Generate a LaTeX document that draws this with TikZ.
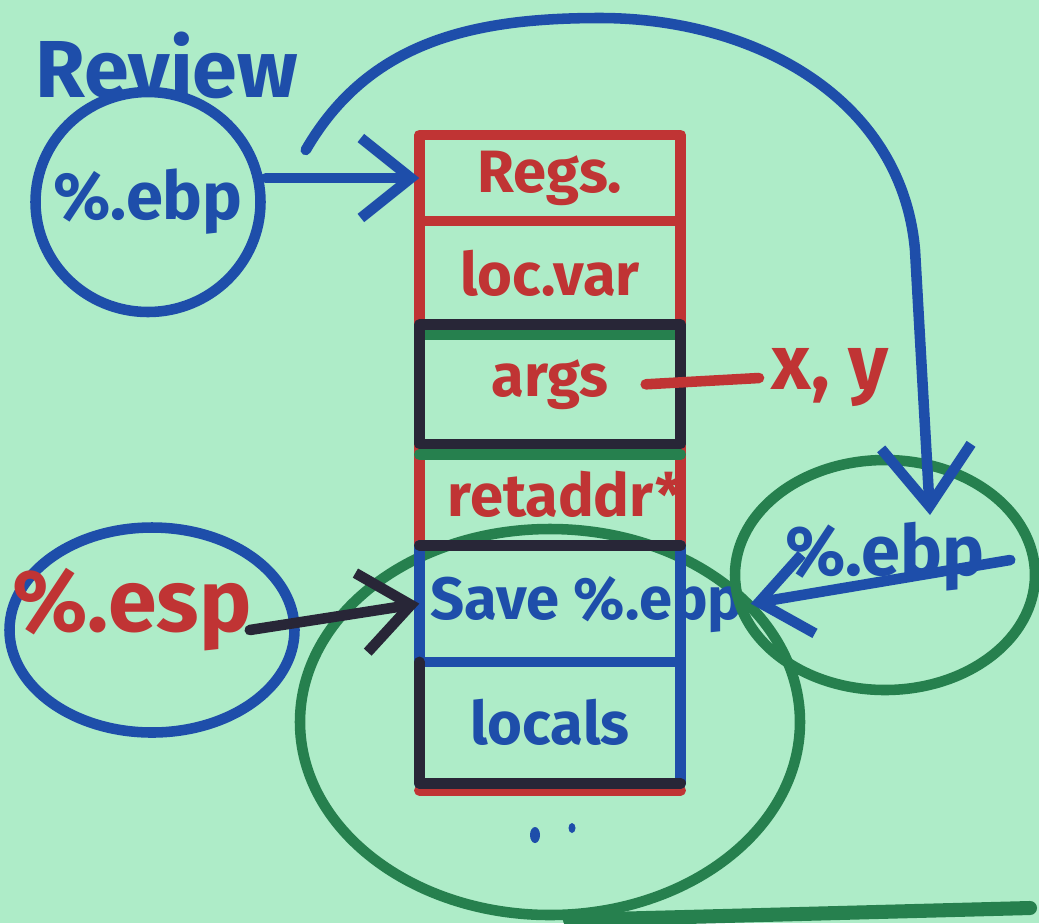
\documentclass[tikz,border=0pt]{standalone}
\usepackage{fontspec}
\setmainfont{Fira Sans}
\usepackage{tikz}
\usetikzlibrary{shapes.geometric, arrows, arrows.meta}
\usetikzlibrary{positioning}
\definecolor{paper}{RGB}{174,236,200}
\definecolor{inkblue}{RGB}{30,78,170}
\definecolor{inkred}{RGB}{192,52,52}
\definecolor{inkgreen}{RGB}{38,128,78}
\definecolor{inkblack}{RGB}{40,38,55}
\tikzstyle{cell} = [minimum width=2.6cm, inner sep=0pt, text centered, font=\bfseries\fontsize{17}{19}\selectfont]
\tikzstyle{reg} = [ellipse, line width=3pt, inner sep=0pt, label distance=0pt]
\tikzstyle{ink} = [line width=3pt]
\tikzstyle{arrow} = [line width=3pt, ->, >={Straight Barb[length=5mm,width=8mm]}]

\begin{document}
\begin{tikzpicture}[line cap=round, line join=round]
\fill[paper] (0,0) rectangle (10.39,-9.23);
\useasboundingbox (0,0) rectangle (10.39,-9.23);

% ring round the saved ebp
\draw[ink, inkgreen] (5.5,-7.22) ellipse (2.5 and 1.93);

% the stack frame
\node[cell, minimum height=0.85cm, text=inkred] (regs) at (5.5,-1.78) {Regs.};
\node[cell, minimum height=1.02cm, text=inkred, below=0pt of regs] (locvar) {loc.var};
\node[cell, minimum height=1.18cm, text=inkred, below=0pt of locvar] (args) {args};
\node[cell, minimum height=1.0cm, text=inkred, below=0pt of args] (ret) {\makebox[0pt]{\hspace{3mm}retaddr*}};
\node[cell, minimum height=1.15cm, text=inkblue, below=0pt of ret] (save) {\makebox[0pt]{\hspace{7.4mm}Save \%.ebp}};
\node[cell, minimum height=1.2cm, text=inkblue, below=0pt of save] (locals) {locals};

\draw[ink, inkred] (regs.north west) rectangle (ret.south east);
\draw[ink, inkred] (regs.south west) -- (regs.south east);
\draw[ink, inkgreen] ([yshift=-3pt]args.north west) -- ([yshift=-3pt]args.north east);
\draw[ink, inkgreen] ([yshift=-3pt]args.south west) -- ([yshift=-3pt]args.south east);
\draw[ink, inkblack] (args.north west) rectangle (args.south east);
\draw[ink, inkred] ([yshift=-2pt]locals.south west) -- ([yshift=-2pt]locals.south east);
\draw[ink, inkblue] (save.north west) rectangle (locals.south east);
\draw[ink, inkblue] (save.south west) -- (save.south east);
\draw[ink, inkblack] (save.north west) -- (save.north east);
\draw[ink, inkblack] (locals.north west) -- (locals.south west) -- (locals.south east);

% registers
\node[text=inkblue, font=\bfseries\fontsize{23}{25}\selectfont] (title) at (1.67,-0.65) {Review};
\node[reg, draw=inkblue, minimum width=2.25cm, minimum height=2.2cm,
      label={[text=inkblue, font=\bfseries\fontsize{19}{21}\selectfont]center:\%.ebp}] (ebpL) at (1.48,-2.02) {};
\node[reg, draw=inkblue, minimum width=2.85cm, minimum height=2.05cm,
      label={[text=inkred, font=\bfseries\fontsize{25}{27}\selectfont, xshift=-2mm, yshift=2mm]center:\%.esp}] (espL) at (1.52,-6.3) {};
\node[reg, draw=inkgreen, minimum width=3.0cm, minimum height=2.3cm,
      label={[text=inkblue, font=\bfseries\fontsize{20}{22}\selectfont, yshift=1.8mm]center:\%.ebp}] (ebpR) at (8.85,-5.75) {};
\node[text=inkred, font=\bfseries\fontsize{22}{24}\selectfont] (xy) at (8.3,-3.78) {x, y};

% links
\draw[arrow, inkblue] (ebpL.east |- regs.west) -- (regs.west);
\draw[arrow, inkblack] ([xshift=-5mm]espL.east) -- (save.west);
\draw[arrow, inkblue] ([xshift=-3mm,yshift=1.5mm]ebpR.east) -- ([xshift=7mm]save.east);
\draw[ink, inkred] ([xshift=-3.5mm]args.east) -- (xy.west);
\draw[arrow, inkblue, >={Straight Barb[length=6mm,width=9mm]}] ([shift={(0.4,0.52)}]ebpL.east)
    to[out=60,in=180] (6.0,-0.18) to[out=0,in=95] (9.15,-2.5) -- ([shift={(0.45,0.6)}]ebpR.center);

\draw[line width=4pt, inkgreen] (5.7,-9.2) -- (10.3,-9.08);
\fill[inkblue] (5.35,-8.35) ellipse (0.05 and 0.08);
\fill[inkblue] (5.72,-8.28) ellipse (0.035 and 0.05);
\end{tikzpicture}
\end{document}
